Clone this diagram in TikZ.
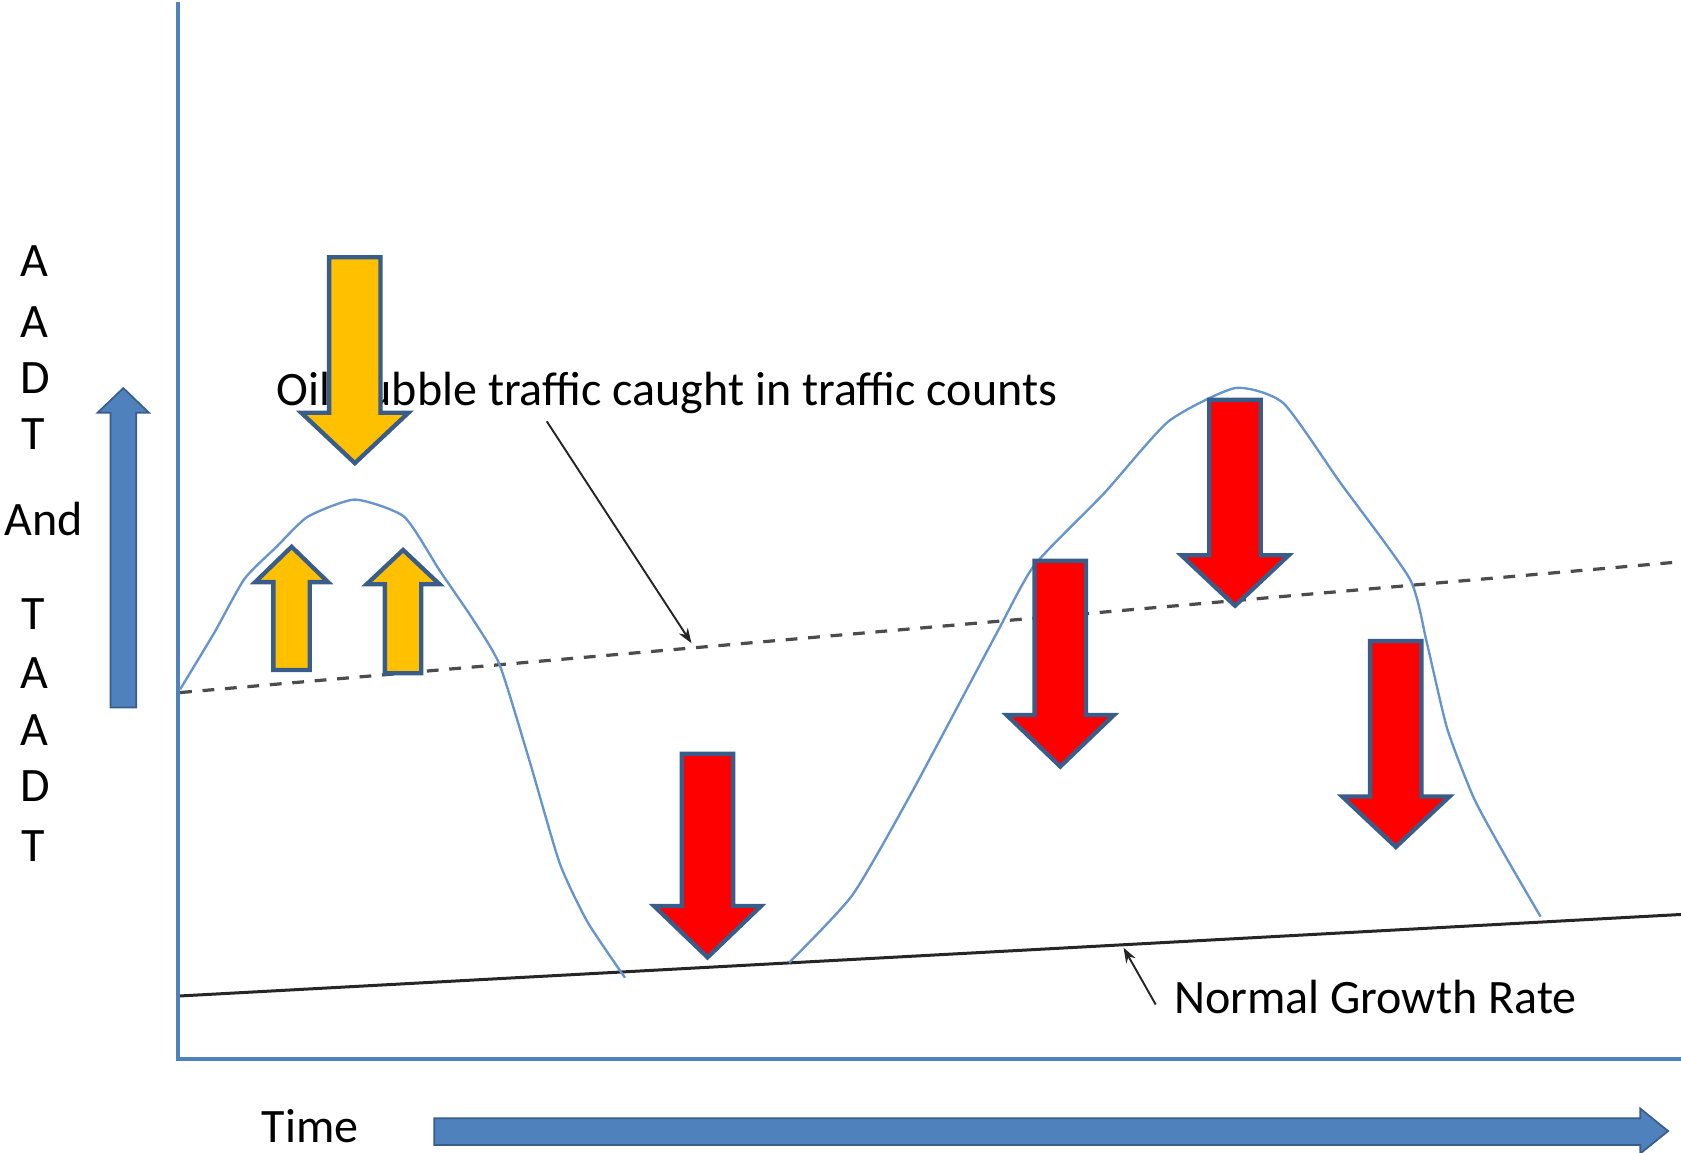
\documentclass[tikz,border=0pt]{standalone}
\usepackage{fontspec}
\setmainfont{Carlito}
\usetikzlibrary{arrows.meta}

\definecolor{axisblue}{RGB}{79,129,189}
\definecolor{edgeblue}{RGB}{56,93,138}
\definecolor{curveblue}{RGB}{102,148,206}
\definecolor{gold}{RGB}{255,192,0}
\definecolor{brightred}{RGB}{255,0,0}

% block arrow along y: style, centre x, tail y, head base y, tip y, half shaft, half head
\newcommand{\blockarrow}[7]{%
  \path[#1] ({#2-#6},#3) -- ({#2+#6},#3) -- ({#2+#6},#4) -- ({#2+#7},#4)
    -- (#2,#5) -- ({#2-#7},#4) -- ({#2-#6},#4) -- cycle;}

\tikzset{
  lbl/.style={font=\fontsize{44.8}{52}\selectfont, inner sep=0pt, text=black},
  axisline/.style={draw=axisblue, line width=3.6pt},
  trend/.style={curveblue, line width=2.2pt, line join=round},
  goldarrow/.style={fill=gold, draw=edgeblue, line width=4pt},
  redarrow/.style={fill=brightred, draw=edgeblue, line width=4pt},
  bluearrow/.style={fill=axisblue, draw=edgeblue, line width=1.6pt},
  bubbleline/.style={draw=black!70, line width=3pt, dash pattern=on 11pt off 10pt},
  growthline/.style={draw=black!85, line width=2.8pt},
  pointer/.style={draw=black!85, line width=1.8pt, -{Stealth[length=14pt,width=10pt]}}
}

\begin{document}
\begin{tikzpicture}[x=1pt,y=-1pt]
\useasboundingbox (0,0) rectangle (1568,1075);

% axes
\coordinate (origin) at (166,988);
\coordinate (ytop) at (166,2);
\coordinate (xend) at (1568,988);
\draw[axisline] (ytop) -- (origin) -- (xend);

% y-axis label, one letter per line
\node[lbl] (y1) at (32,244) {A};
\node[lbl] (y2) at (32,300) {A};
\node[lbl] (y3) at (33,353) {D};
\node[lbl] (y4) at (31,405) {T};
\node[lbl] (y5) at (41,484) {And};
\node[lbl] (y6) at (31,573) {T};
\node[lbl] (y7) at (32,628) {A};
\node[lbl] (y8) at (32,681) {A};
\node[lbl] (y9) at (33,733) {D};
\node[lbl] (y10) at (31,789) {T};

% vertical and horizontal direction arrows
\path[bluearrow] (103,660) -- (127,660) -- (127,385) -- (139,385) -- (115,362)
  -- (91,385) -- (103,385) -- cycle;
\node[lbl, anchor=base west] (time) at (244,1066) {Time};
\path[bluearrow] (405,1043) -- (1530,1043) -- (1530,1034) -- (1556,1055)
  -- (1530,1076) -- (1530,1068) -- (405,1068) -- cycle;

% trend lines
\coordinate (bubA) at (168,646);
\coordinate (bubB) at (1568,524);
\draw[bubbleline] (bubA) -- (bubB);
\coordinate (growA) at (168,929);
\coordinate (growB) at (1568,853);
\draw[growthline] (growA) -- (growB);

% observed traffic curve
\draw[trend] plot[smooth, tension=0.35] coordinates {
  (168,643) (200,590) (228,540) (258,510) (287,482) (331,466) (377,482)
  (410,532) (440,576) (466,620) (494,710) (522,805) (548,860) (583,912)};
\draw[trend] plot[smooth, tension=0.35] coordinates {
  (736,898) (795,835) (850,740) (930,590) (965,527) (1030,460) (1090,393)
  (1152,362) (1197,376) (1250,450) (1315,540) (1331,600) (1350,680)
  (1375,745) (1405,800) (1437,855)};

% labels and pointers
\node[lbl, anchor=base west] (oil) at (258,378) {Oil bubble traffic caught in traffic counts};
\coordinate (oilfrom) at (510,393);
\coordinate (oilto) at (645,600);
\draw[pointer] (oilfrom) -- (oilto);
\node[lbl, anchor=base west] (normal) at (1095,945) {Normal Growth Rate};
\coordinate (normfrom) at (1078,937);
\coordinate (normto) at (1048,884);
\draw[pointer] (normfrom) -- (normto);

% gold arrows on the first peak
\blockarrow{goldarrow}{331}{240}{385}{432}{24}{50}
\blockarrow{goldarrow}{272}{625}{543}{510}{17}{34}
\blockarrow{goldarrow}{376}{628}{545}{513}{17}{34}

% red arrows
\blockarrow{redarrow}{660}{703}{845}{893}{24}{50}
\blockarrow{redarrow}{989}{523}{667}{715}{24}{50}
\blockarrow{redarrow}{1152}{373}{518}{565}{24}{50}
\blockarrow{redarrow}{1302}{598}{743}{790}{24}{50}
\end{tikzpicture}
\end{document}
